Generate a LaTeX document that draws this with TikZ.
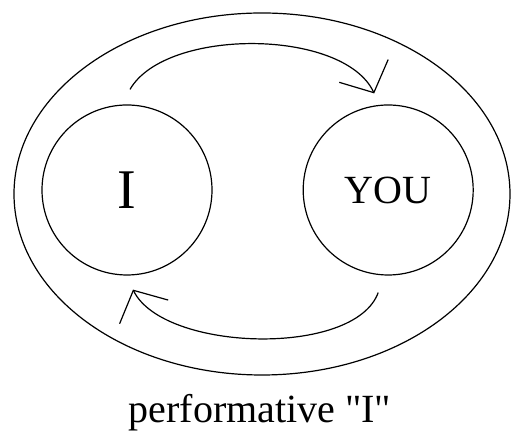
\documentclass[tikz,border=0pt]{standalone}
\usepackage{fontspec}
\setmainfont{Liberation Serif}
\usetikzlibrary{positioning,arrows.meta}

\begin{document}
\begin{tikzpicture}[
  line width=0.6pt,
  persona/.style={circle, draw, minimum size=85pt, inner sep=0pt},
  giro/.style={-{Straight Barb[length=12pt, width=27pt, line width=0.6pt]}, looseness=0.75},
  node distance=45pt]
  \useasboundingbox (0,0) rectangle (255.5pt,216.5pt);
  \draw (131pt,119.5pt) ellipse [x radius=124pt, y radius=90.5pt];
  \node[persona, font=\fontsize{28}{30}\selectfont] (yo) at (63.5pt,121.5pt) {I};
  \node[persona, font=\fontsize{20}{22}\selectfont, right=of yo] (tu) {YOU};
  \draw[giro] ([shift={(1.5pt,7.5pt)}]yo.north) to[out=60, in=115] ([shift={(-7pt,5.5pt)}]tu.north);
  \draw[giro, looseness=0.72] ([shift={(-5pt,-8.5pt)}]tu.south) to[out=-110, in=-64] ([shift={(3pt,-7pt)}]yo.south);
  \node[font=\fontsize{20}{22}\selectfont, anchor=base] (rotulo) at (130pt,5pt) {performative \textquotedbl I\textquotedbl};
\end{tikzpicture}
\end{document}
